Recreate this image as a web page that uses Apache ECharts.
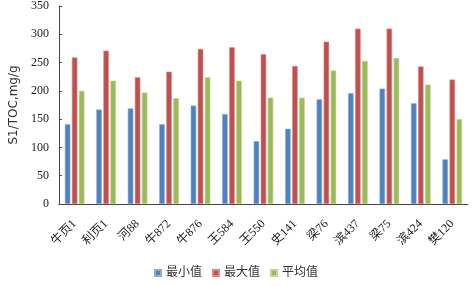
<!DOCTYPE html>
<html>
<head>
<meta charset="utf-8">
<script src="https://cdn.jsdelivr.net/npm/echarts@6/dist/echarts.min.js"></script>
<style>
html, body { margin: 0; padding: 0; background: #fff; }
#chart { width: 472px; height: 286px; }
</style>
</head>
<body>
<div id="chart"></div>
<script>
var myChart = echarts.init(document.getElementById('chart'));

// 井名
var wells = ['牛页1', '利页1', '河88', '牛872', '牛876', '王584', '王550', '史141', '梁76', '滨437', '梁75', '滨424', '樊120'];
// S1/TOC 数据
var minVals = [141, 167, 169, 141, 174, 159, 111, 133, 185, 196, 204, 178, 79];
var maxVals = [259, 271, 224, 234, 274, 277, 265, 244, 287, 310, 310, 243, 220];
var avgVals = [200, 218, 197, 187, 224, 218, 188, 188, 236, 253, 258, 211, 150];
var seriesNames = ['最小值', '最大值', '平均值'];
var colors = ['#4F81BD', '#C0504D', '#9BBB59'];

var serif = '"Liberation Serif", "Noto Sans CJK SC", serif';

function bar(name, data, color) {
	return {
		name: name,
		type: 'bar',
		data: data,
		barWidth: 5.5,
		barGap: '28%',
		itemStyle: {
			color: color,
			borderColor: echarts.color.lift(color, 0.35),
			borderWidth: 0.6
		}
	};
}

myChart.setOption({
	animation: false,
	color: colors,
	grid: {
		left: 56,
		right: 4,
		top: 6,
		bottom: 82
	},
	legend: {
		bottom: 2,
		left: 'center',
		itemWidth: 6,
		itemHeight: 6,
		itemGap: 10,
		icon: 'rect',
		textStyle: {
			fontFamily: serif,
			fontSize: 12,
			color: '#333'
		},
		data: seriesNames
	},
	xAxis: {
		type: 'category',
		data: wells,
		axisLine: { lineStyle: { color: '#444', width: 1 } },
		axisTick: { inside: true, length: 3, lineStyle: { color: '#444' } },
		axisLabel: {
			rotate: 45,
			interval: 0,
			margin: 18,
			fontFamily: serif,
			fontSize: 12,
			color: '#222'
		}
	},
	yAxis: {
		type: 'value',
		min: 0,
		max: 350,
		interval: 50,
		name: 'S1/TOC,mg/g',
		nameLocation: 'middle',
		nameGap: 36,
		nameTextStyle: {
			fontFamily: '"DejaVu Sans", sans-serif',
			fontSize: 12,
			color: '#333'
		},
		splitLine: { show: false },
		axisLine: { show: true, lineStyle: { color: '#444', width: 1 } },
		axisTick: { show: true, inside: true, length: 3, lineStyle: { color: '#444' } },
		axisLabel: {
			fontFamily: serif,
			fontSize: 12,
			color: '#222',
			margin: 10
		}
	},
	series: [
		bar(seriesNames[0], minVals, colors[0]),
		bar(seriesNames[1], maxVals, colors[1]),
		bar(seriesNames[2], avgVals, colors[2])
	]
});

window.addEventListener('resize', function () {
	myChart.resize();
});
</script>
</body>
</html>
